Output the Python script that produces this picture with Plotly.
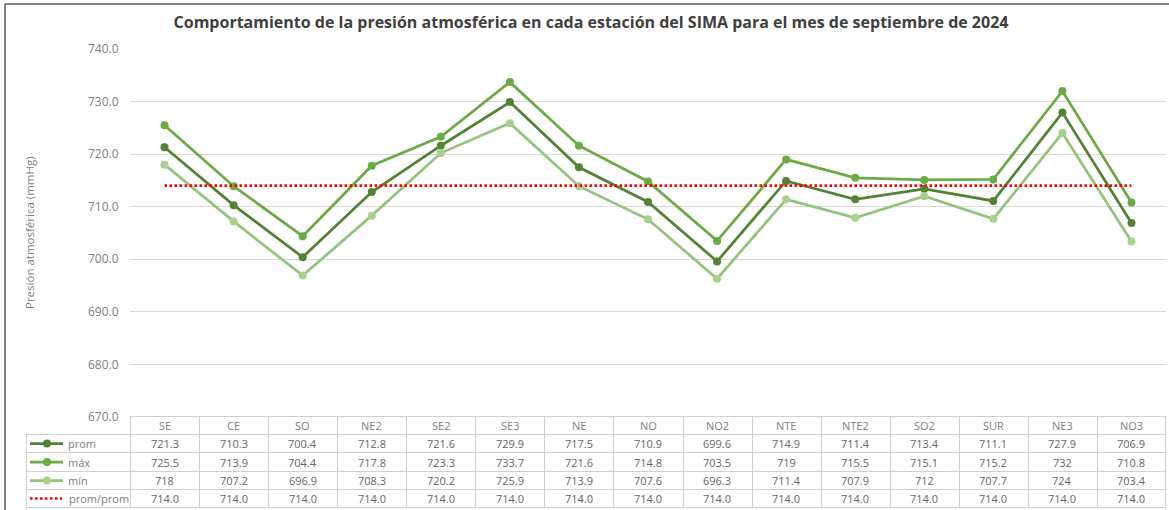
import plotly.graph_objects as go

# ---------------- data ----------------
stations = ["SE", "CE", "SO", "NE2", "SE2", "SE3", "NE", "NO", "NO2", "NTE", "NTE2", "SO2", "SUR", "NE3", "NO3"]
prom = [721.3, 710.3, 700.4, 712.8, 721.6, 729.9, 717.5, 710.9, 699.6, 714.9, 711.4, 713.4, 711.1, 727.9, 706.9]
maxv = [725.5, 713.9, 704.4, 717.8, 723.3, 733.7, 721.6, 714.8, 703.5, 719.0, 715.5, 715.1, 715.2, 732.0, 710.8]
minv = [718.0, 707.2, 696.9, 708.3, 720.2, 725.9, 713.9, 707.6, 696.3, 711.4, 707.9, 712.0, 707.7, 724.0, 703.4]
promprom = [714.0] * 15
series_names = ["prom", "máx", "mín", "prom/prom"]
y_ticks = [670, 680, 690, 700, 710, 720, 730, 740]

title = "Comportamiento de la presión atmosférica en cada estación del SIMA para el mes de septiembre de 2024"
y_title = "Presión atmosférica (mmHg)"

# ---------------- styles ----------------
C_PROM = "#548235"
C_MAX = "#6AAB43"
C_MIN = "#93C47D"
C_MIN_MK = "#A9D18E"
C_RED = "#FF0000"
FONT = "Open Sans"
GRAY = "#808080"
TXT = "#666666"
GRID = "#D9D9D9"
TBL = "#D0D0D0"

W, H = 1169, 510
PL, PR, PT, PB = 130, 1166, 49, 417
PW, PH = PR - PL, PB - PT


def fx(px):
    return (px - PL) / PW


def fy(py):
    return (PB - py) / PH


fig = go.Figure()
fig.add_trace(go.Scatter(x=stations, y=prom, name=series_names[0], mode="lines+markers",
                         line=dict(color=C_PROM, width=2.75), marker=dict(color=C_PROM, size=8)))
fig.add_trace(go.Scatter(x=stations, y=maxv, name=series_names[1], mode="lines+markers",
                         line=dict(color=C_MAX, width=2.75), marker=dict(color=C_MAX, size=8)))
fig.add_trace(go.Scatter(x=stations, y=minv, name=series_names[2], mode="lines+markers",
                         line=dict(color=C_MIN, width=2.75), marker=dict(color=C_MIN_MK, size=8)))
fig.add_trace(go.Scatter(x=stations, y=promprom, name=series_names[3], mode="lines",
                         line=dict(color=C_RED, width=2.75, dash="2.5px,2.5px")))

shapes = []
annotations = []

# table geometry (pixels, half-pixel for crisp 1px lines)
row_lines = [416.5, 434.5, 452.5, 471.5, 489.5, 507.5]
row_centers = [(row_lines[i] + row_lines[i + 1]) / 2 for i in range(5)]

# horizontal lines
shapes.append(dict(type="line", xref="paper", yref="paper", x0=0, x1=1,
                   y0=fy(row_lines[0]), y1=fy(row_lines[0]), line=dict(color=TBL, width=1)))
for yl in row_lines[1:]:
    shapes.append(dict(type="line", xref="paper", yref="paper", x0=fx(26.5), x1=fx(1165.5),
                       y0=fy(yl), y1=fy(yl), line=dict(color=TBL, width=1)))
# vertical lines (column borders in pixels)
col_w = PW / len(stations)
vx = [26.5] + [round(PL + i * col_w) + 0.5 for i in range(len(stations))] + [1165.5]
for k, xv in enumerate(vx):
    ytop = row_lines[1] if k == 0 else row_lines[0]
    shapes.append(dict(type="line", xref="paper", yref="paper", x0=fx(xv), x1=fx(xv),
                       y0=fy(ytop), y1=fy(row_lines[-1]), line=dict(color=TBL, width=1)))

# header row and values
rows = [
    [f"{v:.1f}" for v in prom],
    [f"{v:g}" for v in maxv],
    [f"{v:g}" for v in minv],
    [f"{v:.1f}" for v in promprom],
]
for i, s in enumerate(stations):
    annotations.append(dict(x=s, xref="x", y=fy(row_centers[0]), yref="paper", text=s,
                            xanchor="center", yanchor="middle",
                            showarrow=False, font=dict(family=FONT, size=11, color=GRAY)))
    for r, vals in enumerate(rows):
        annotations.append(dict(x=s, xref="x", y=fy(row_centers[r + 1]), yref="paper", text=vals[i],
                                xanchor="center", yanchor="middle",
                                showarrow=False, font=dict(family=FONT, size=11, color=TXT)))

# legend keys in first column
key_colors = [(C_PROM, C_PROM), (C_MAX, C_MAX), (C_MIN, C_MIN_MK)]
for r, (lc, mc) in enumerate(key_colors):
    yc = fy(row_centers[r + 1])
    shapes.append(dict(type="line", xref="paper", yref="paper", x0=fx(30), x1=fx(63),
                       y0=yc, y1=yc, line=dict(color=lc, width=2.75)))
    shapes.append(dict(type="circle", xref="paper", yref="paper", xsizemode="pixel", ysizemode="pixel",
                       xanchor=fx(47), yanchor=yc, x0=-4, x1=4, y0=-4, y1=4,
                       fillcolor=mc, line=dict(color=mc, width=0)))
yc = fy(row_centers[4])
shapes.append(dict(type="line", xref="paper", yref="paper", x0=fx(30), x1=fx(62),
                   y0=yc, y1=yc, line=dict(color=C_RED, width=2.5, dash="2.5px,2.5px")))
for r, nm in enumerate(series_names):
    annotations.append(dict(x=fx(66 if r < 3 else 67), xref="paper", y=fy(row_centers[r + 1]), yref="paper",
                            text=nm, xanchor="left", yanchor="middle", showarrow=False,
                            font=dict(family=FONT, size=11, color=GRAY)))

# y axis title
annotations.append(dict(x=fx(29), xref="paper", y=fy(233), yref="paper", text=y_title, textangle=-90,
                        xanchor="center", yanchor="middle",
                        showarrow=False, font=dict(family=FONT, size=11.5, color=GRAY)))

# outer frame (left and top)
shapes.append(dict(type="line", xref="paper", yref="paper", x0=fx(5), x1=fx(5), y0=fy(4), y1=fy(512),
                   line=dict(color="#595959", width=1.5)))
shapes.append(dict(type="line", xref="paper", yref="paper", x0=fx(5), x1=fx(1170), y0=fy(4), y1=fy(4),
                   line=dict(color="#595959", width=1.5)))

fig.update_layout(
    width=W, height=H,
    margin=dict(l=PL, r=W - PR, t=PT, b=H - PB, autoexpand=False),
    paper_bgcolor="white", plot_bgcolor="white",
    showlegend=False,
    title=dict(text=f"<b>{title}</b>", x=591 / W, xref="container", xanchor="center",
               y=1 - 22 / H, yref="container", yanchor="middle",
               font=dict(family=FONT, size=16, color="#404040")),
    xaxis=dict(type="category", categoryorder="array", categoryarray=stations,
               range=[-0.5, len(stations) - 0.5], showticklabels=False, showgrid=False,
               zeroline=False, showline=False, ticks=""),
    yaxis=dict(range=[670, 740], tickvals=y_ticks, tickformat=".1f", showgrid=True, gridcolor=GRID,
               gridwidth=1, zeroline=False, showline=False, ticks="outside", ticklen=8,
               tickcolor="rgba(0,0,0,0)", tickfont=dict(family=FONT, size=12, color=GRAY)),
    shapes=shapes,
    annotations=annotations,
)

fig.write_html("out.html", config={"displayModeBar": False},
               post_script="document.body.style.margin='0';document.body.style.overflow='hidden';")
